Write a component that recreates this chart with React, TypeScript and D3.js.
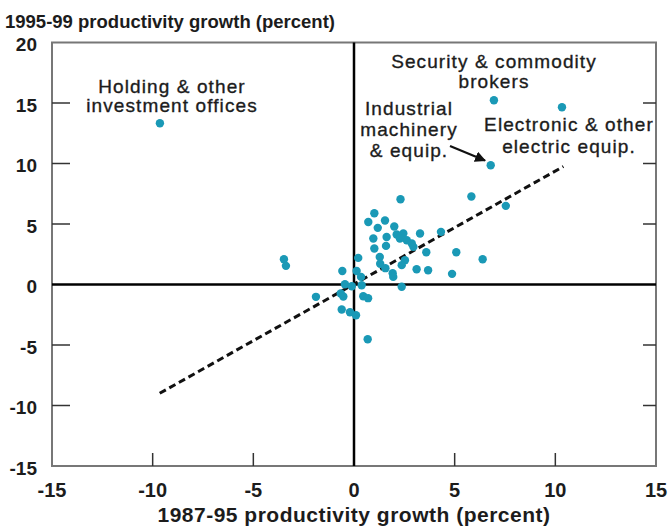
import React from "react";
import * as d3 from "d3";

// Industry productivity growth, 1987-95 (x) vs 1995-99 (y), percent
const growth8795: number[] = [
  2.31, 5.83, 1.01, 0.71, 1.54, 1.18, 2.0, 0.96, 1.62, 2.12, 2.45, 2.28, 2.62, 2.87, 2.95,
  3.28, 4.32, 1.01, 1.59, 3.59, 5.08, 6.39, 0.21, 1.28, 1.3, 2.53, 2.37, 1.56, 1.92, 1.95,
  3.11, 3.68, 4.87, 2.37, -0.58, 0.13, 0.35, -0.45, -0.11, 0.38, -0.66, -0.53, -1.89, 0.46,
  0.7, -0.61, -0.2, 0.1, 0.68, -3.48, -3.38, 7.54, -9.64, 6.95, 10.33, 6.79,
];
const growth9599: number[] = [
  7.05, 7.27, 5.89, 5.17, 5.29, 4.68, 4.79, 3.8, 3.93, 4.13, 4.21, 3.8, 3.66, 3.39, 3.11,
  4.21, 4.35, 2.98, 3.19, 2.67, 2.67, 2.09, 2.2, 2.28, 1.72, 2.01, 1.6, 1.35, 0.93, 0.63,
  1.26, 1.18, 0.88, -0.18, 1.12, 1.12, 0.63, 0.02, -0.14, -0.06, -0.74, -0.99, -1.02, -0.97,
  -1.13, -2.07, -2.29, -2.54, -4.52, 2.09, 1.54, 6.5, 13.33, 15.23, 14.65, 9.86,
];

// Fitted trend line endpoints
const fitX: number[] = [-9.65, 10.4];
const fitY: number[] = [-8.99, 9.75];

const xTicks: number[] = [-15, -10, -5, 0, 5, 10, 15];
const yTicks: number[] = [20, 15, 10, 5, 0, -5, -10, -15];

const xTitle = "1987-95 productivity growth (percent)";
const yTitle = "1995-99 productivity growth (percent)";

const labelHolding = ["Holding & other", "investment offices"];
const labelBrokers = ["Security & commodity", "brokers"];
const labelMachinery = ["Industrial", "machinery", "& equip."];
const labelElectronic = ["Electronic & other", "electric equip."];

const W = 668;
const H = 526;
const margin = { left: 52, right: 12, top: 42.5, bottom: 60 };
const font = "'Liberation Sans', Arial, Helvetica, sans-serif";
const dotColor = "#1a99b6";
const ink = "#1c1c1c";

export default function App() {
  const x = d3.scaleLinear().domain([-15, 15]).range([margin.left, W - margin.right]);
  const y = d3.scaleLinear().domain([-15, 20]).range([H - margin.bottom, margin.top]);
  const x0 = margin.left;
  const x1 = W - margin.right;
  const y0 = margin.top;
  const y1 = H - margin.bottom;

  const fitLine = d3
    .line<number>()
    .x((_, i) => x(fitX[i]))
    .y((d) => y(d))(fitY);

  const points = growth8795.map((v, i) => ({ gx: v, gy: growth9599[i] }));

  const annoStyle = {
    fontFamily: font,
    fontSize: 19,
    letterSpacing: 1.1,
    fill: ink,
    stroke: ink,
    strokeWidth: 0.35,
    textAnchor: "middle" as const,
  };

  const block = (lines: string[], cx: number, cy: number, gap: number) =>
    lines.map((t, i) => (
      <text key={t} x={cx} y={cy + i * gap} dy="0.35em" style={annoStyle}>
        {t}
      </text>
    ));

  const boldStyle = (size: number) => ({
    fontFamily: font,
    fontSize: size,
    fontWeight: 700,
    fill: ink,
  });

  return (
    <svg
      width={W}
      height={H}
      style={{ position: "absolute", left: 0, top: 0, background: "#fff" }}
    >
      <defs>
        <marker id="arrowHead" viewBox="0 0 10 10" refX="9" refY="5" markerWidth="5" markerHeight="5" orient="auto">
          <path d="M0,0 L10,5 L0,10 z" fill="#111" />
        </marker>
      </defs>

      {/* y-axis title */}
      <text x={5} y={22} dy="0.35em" style={boldStyle(18.5)}>
        {yTitle}
      </text>

      {/* frame */}
      <rect x={x0} y={y0} width={x1 - x0} height={y1 - y0} fill="none" stroke="#777" strokeWidth={2} />

      {/* left and right ticks */}
      {yTicks
        .filter((t) => t !== 20 && t !== -15 && t !== 0)
        .map((t) => (
          <g key={"yt" + t}>
            <line x1={x0} x2={x0 + 18} y1={y(t)} y2={y(t)} stroke="#333" strokeWidth={1.5} />
            <line x1={x1} x2={x1 - 13} y1={y(t)} y2={y(t)} stroke="#333" strokeWidth={1.5} />
          </g>
        ))}
      {/* bottom ticks */}
      {xTicks
        .filter((t) => Math.abs(t) !== 15 && t !== 0)
        .map((t) => (
          <line key={"xt" + t} x1={x(t)} x2={x(t)} y1={y1} y2={y1 - 13} stroke="#333" strokeWidth={1.5} />
        ))}

      {/* tick labels */}
      {yTicks.map((t) => (
        <text key={"yl" + t} x={37} y={y(t) + 2} dy="0.35em" textAnchor="end" style={boldStyle(19)}>
          {t}
        </text>
      ))}
      {xTicks.map((t) => (
        <text key={"xl" + t} x={x(t)} y={490} dy="0.35em" textAnchor="middle" style={boldStyle(20)}>
          {t}
        </text>
      ))}

      {/* x-axis title */}
      <text x={x(0)} y={515} dy="0.35em" textAnchor="middle" style={{ ...boldStyle(21), letterSpacing: 0.5 }}>
        {xTitle}
      </text>

      {/* zero lines */}
      <line x1={x0} x2={x1} y1={y(0)} y2={y(0)} stroke="#000" strokeWidth={2.5} />
      <line x1={x(0)} x2={x(0)} y1={y0} y2={y1} stroke="#000" strokeWidth={2.5} />

      {/* trend line */}
      <path d={fitLine ?? ""} fill="none" stroke="#111" strokeWidth={3} strokeDasharray="7,4" />

      {/* industries */}
      {points.map((p, i) => (
        <circle key={i} cx={x(p.gx)} cy={y(p.gy)} r={4.2} fill={dotColor} />
      ))}

      {/* annotations */}
      {block(labelHolding, 172, 86, 19.5)}
      {block(labelBrokers, 494, 61, 20)}
      {block(labelMachinery, 409, 108, 21)}
      {block(labelElectronic, 569, 124, 22)}
      <line x1={450} y1={146} x2={485} y2={160.5} stroke="#111" strokeWidth={2.2} markerEnd="url(#arrowHead)" />
    </svg>
  );
}
